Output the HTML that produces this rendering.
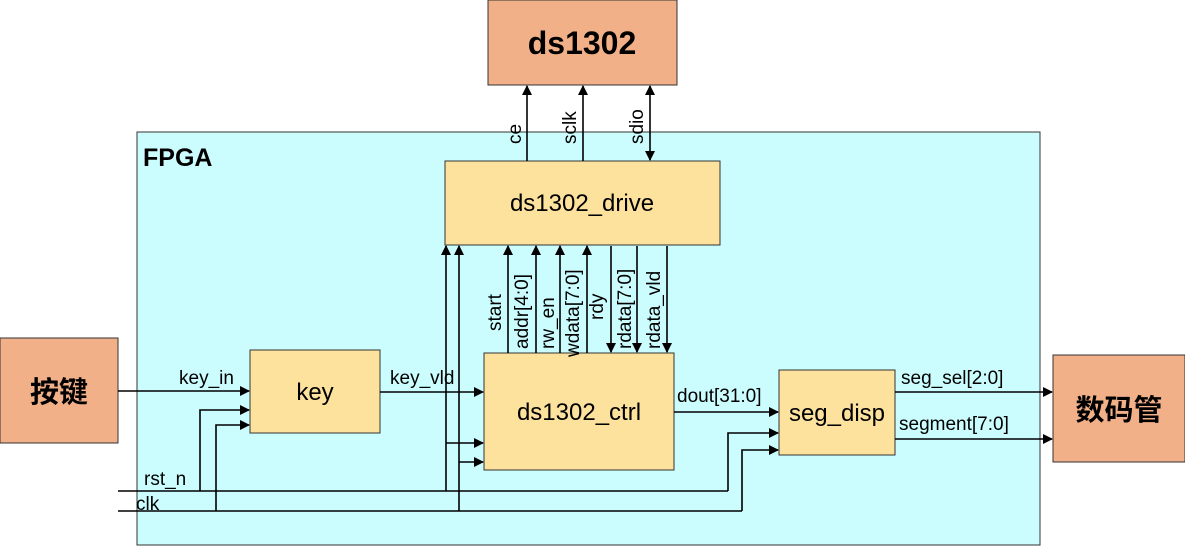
<!DOCTYPE html><html><head><style>body{margin:0;background:#fff}svg{display:block}text{font-family:"Liberation Sans","Noto Sans CJK SC",sans-serif;fill:#000}</style></head><body>
<svg width="1185" height="546" viewBox="0 0 1185 546" xmlns="http://www.w3.org/2000/svg">
<defs><marker id="a" markerWidth="10" markerHeight="10" refX="9" refY="5" orient="auto-start-reverse" markerUnits="userSpaceOnUse"><path d="M0,0 L10,5 L0,10 z" fill="#000"/></marker></defs>
<rect x="137" y="132" width="903" height="413" fill="#ccfdfe" stroke="#333"/>
<text x="143" y="166" font-size="25" font-weight="bold">FPGA</text>
<rect x="488" y="0" width="189" height="85" fill="#f2b088" stroke="#333"/>
<text x="582" y="54" font-size="32" font-weight="bold" text-anchor="middle">ds1302</text>
<rect x="0" y="338" width="118" height="105" fill="#f2b088" stroke="#333"/>
<text x="59" y="402" font-size="29" font-weight="bold" text-anchor="middle">按键</text>
<rect x="1053" y="355" width="132" height="107" fill="#f2b088" stroke="#333"/>
<text x="1119" y="420" font-size="29" font-weight="bold" text-anchor="middle">数码管</text>
<g fill="#fde29e" stroke="#333">
<rect x="445" y="161" width="275" height="84"/>
<rect x="484" y="353" width="190" height="117"/>
<rect x="250" y="350" width="130" height="83"/>
<rect x="779" y="370" width="116" height="85"/>
</g>
<g font-size="24" text-anchor="middle">
<text x="582" y="211">ds1302_drive</text>
<text x="579" y="420">ds1302_ctrl</text>
<text x="315" y="400">key</text>
<text x="837" y="421">seg_disp</text>
</g>
<g stroke="#000" stroke-width="1.6" fill="none" marker-end="url(#a)">
<path d="M527 161V86"/><path d="M583 161V86"/><path d="M650 86V160" marker-start="url(#a)"/>
<path d="M118 391H249"/><path d="M380 392H483"/>
<path d="M200 491V410H249"/><path d="M216 511V425H249"/>
<path d="M446 491V246"/><path d="M459 511V246"/>
<path d="M446 443H483"/><path d="M459 462H483"/>
<path d="M508 353V246"/><path d="M536 353V246"/><path d="M560 353V246"/><path d="M587 353V246"/>
<path d="M611 246V352"/><path d="M637 246V352"/><path d="M667 246V352"/>
<path d="M674 412H778"/>
<path d="M728 491V433H778"/><path d="M742 511V450H778"/>
<path d="M895 392H1052"/><path d="M895 439H1052"/>
</g>
<g stroke="#000" stroke-width="1.6"><path d="M118 491H728"/><path d="M118 511H742"/></g>
<g font-size="19">
<text x="179" y="384">key_in</text><text x="390" y="384">key_vld</text>
<text x="677" y="402">dout[31:0]</text><text x="901" y="384">seg_sel[2:0]</text><text x="899" y="430">segment[7:0]</text>
<text x="144" y="485">rst_n</text><text x="136" y="510">clk</text>
</g>
<g font-size="19">
<text transform="translate(521,144) rotate(-90)">ce</text>
<text transform="translate(576,144) rotate(-90)">sclk</text>
<text transform="translate(643,144) rotate(-90)">sdio</text>
<text transform="translate(501,331) rotate(-90)">start</text>
<text transform="translate(528,349) rotate(-90)">addr[4:0]</text>
<text transform="translate(554,349) rotate(-90)">rw_en</text>
<text transform="translate(579,357) rotate(-90)">wdata[7:0]</text>
<text transform="translate(603,320) rotate(-90)">rdy</text>
<text transform="translate(631,349) rotate(-90)">rdata[7:0]</text>
<text transform="translate(660,349) rotate(-90)">rdata_vld</text>
</g>
</svg></body></html>
